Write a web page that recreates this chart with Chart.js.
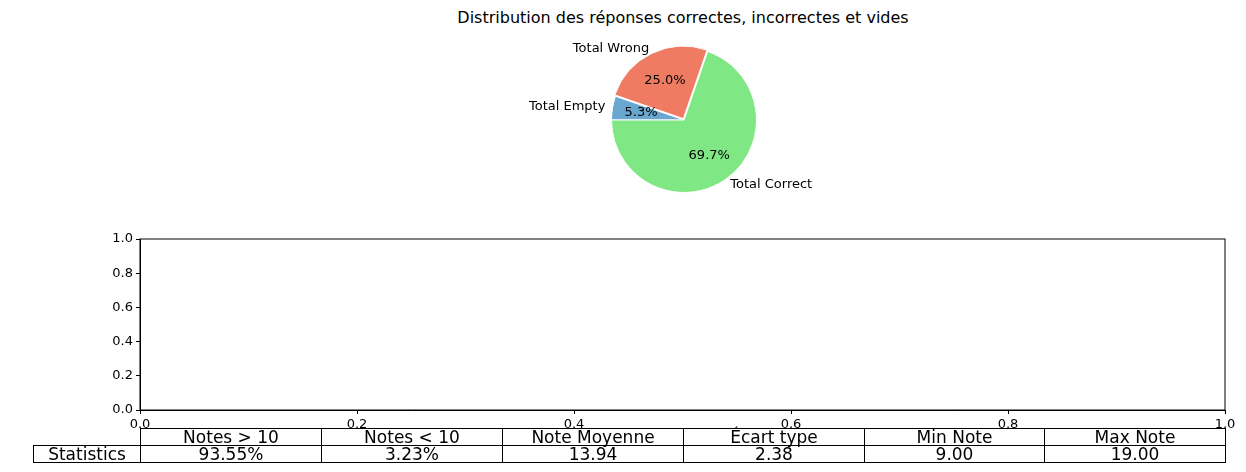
<!DOCTYPE html>
<html><head><meta charset="utf-8">
<script src="https://cdn.jsdelivr.net/npm/chart.js@4"></script>
<style>
body{margin:0;width:1246px;height:472px;background:#fff;position:relative;overflow:hidden;font-family:"DejaVu Sans",sans-serif}
#title{position:absolute;top:8px;left:0;width:1366px;text-align:center;font-size:16px;width:1366px;left:0}
#pieWrap{position:absolute;left:484px;top:30px;width:400px;height:180px}
#axWrap{position:absolute;left:0;top:220px;width:1246px;height:252px}
table{position:absolute;left:33px;top:428px;border-collapse:collapse;font-size:17px;table-layout:fixed}
td{border:1px solid #000;height:16px;padding:0;text-align:center;line-height:16px;background:transparent}
td.blank{border:none}
</style></head><body>
<div id="title" style="left:0;width:1366px;font-size:16px;display:none"></div>
<div style="position:absolute;top:8px;left:0;width:1366px;text-align:center;font-size:16px;" id="t2"></div>
<div id="pieWrap"><canvas id="pie"></canvas></div>
<div id="axWrap"><canvas id="ax"></canvas></div>
<table id="tbl"></table>
<script>
const chartTitle = "Distribution des réponses correctes, incorrectes et vides";
const pieLabels = ["Total Empty", "Total Wrong", "Total Correct"];
const pieValues = [5.3, 25.0, 69.7];
const pieColors = ["#69a6d0", "#ef7b62", "#7fe884"];
const pieOffsets = [0, 6, 0];
const xTicks = [0, 0.2, 0.4, 0.6, 0.8, 1.0];
const yTicks = [0, 0.2, 0.4, 0.6, 0.8, 1.0];
const rowLabel = "Statistics";
const statHeaders = ["Notes > 10", "Notes < 10", "Note Moyenne", "Écart type", "Min Note", "Max Note"];
const statValues = ["93.55%", "3.23%", "13.94", "2.38", "9.00", "19.00"];

const t = document.getElementById('t2');
t.textContent = chartTitle; t.style.width='1366px'; t.style.left='0';
t.style.fontSize='16px';
// center title at x=683
t.style.width='1246px'; t.style.left='60px'; t.style.top='8px';
t.style.left='0'; t.style.width='1366px';

const pieText = {
  id:'pieText',
  afterDatasetsDraw(chart){
    const ctx = chart.ctx;
    const meta = chart.getDatasetMeta(0);
    ctx.save();
    ctx.font = '13px "DejaVu Sans"';
    ctx.fillStyle = '#000';
    meta.data.forEach((arc,i)=>{
      const p = arc.getProps(['x','y','startAngle','endAngle','outerRadius'],true);
      const mid = (p.startAngle+p.endAngle)/2;
      const r = p.outerRadius;
      const cx = Math.cos(mid), cy = Math.sin(mid);
      ctx.textAlign='center'; ctx.textBaseline='middle';
      ctx.fillText(pieValues[i].toFixed(1)+'%', p.x+cx*r*0.6, p.y+cy*r*0.6);
      ctx.textAlign = cx<0?'right':'left';
      ctx.fillText(pieLabels[i], p.x+cx*r*1.1, p.y+cy*r*1.1);
    });
    ctx.restore();
  }
};
new Chart(document.getElementById('pie'),{
  type:'pie',
  data:{labels:pieLabels,datasets:[{data:pieValues,backgroundColor:pieColors,borderColor:'#fff',borderWidth:1,offset:pieOffsets}]},
  options:{responsive:true,maintainAspectRatio:false,animation:false,rotation:-90,
    layout:{padding:{top:14,bottom:14}},
    plugins:{legend:{display:false},tooltip:{enabled:false}}},
  plugins:[pieText]
});

new Chart(document.getElementById('ax'),{
  type:'scatter',
  data:{datasets:[{data:[]}]},
  options:{responsive:true,maintainAspectRatio:false,animation:false,
    layout:{padding:{top:19,right:21,left:0,bottom:0}},
    plugins:{legend:{display:false},tooltip:{enabled:false}},
    scales:{
      x:{type:'linear',min:0,max:1,afterBuildTicks:s=>{s.ticks=xTicks.map(v=>({value:v}));},
        afterFit:s=>{s.height=62;},
        ticks:{color:'#000',font:{size:13,family:'DejaVu Sans'},maxRotation:0,padding:3,callback:v=>Number(v).toFixed(1)},
        grid:{drawOnChartArea:false,tickLength:4,color:'#000'},border:{color:'#000'}},
      y:{type:'linear',min:0,max:1,afterBuildTicks:s=>{s.ticks=yTicks.map(v=>({value:v}));},
        afterFit:s=>{s.width=140;},
        ticks:{color:'#000',font:{size:13,family:'DejaVu Sans'},padding:3,callback:v=>Number(v).toFixed(1)},
        grid:{drawOnChartArea:false,tickLength:4,color:'#000'},border:{color:'#000'}}
    }},
  plugins:[{id:'box',afterDraw(c){const a=c.chartArea,x=c.ctx;x.save();x.strokeStyle='#000';x.lineWidth=1;x.strokeRect(a.left,a.top,a.right-a.left,a.bottom-a.top);x.restore();}}]
});

const tbl = document.getElementById('tbl');
const widths=[107,181,181,181,181,180,181];
let cg='<colgroup>'+widths.map(w=>`<col style="width:${w}px">`).join('')+'</colgroup>';
let r1='<tr><td class="blank"></td>'+statHeaders.map(h=>`<td style="vertical-align:bottom">${h}</td>`).join('')+'</tr>';
let r2='<tr><td>'+rowLabel+'</td>'+statValues.map(v=>`<td>${v}</td>`).join('')+'</tr>';
tbl.innerHTML=cg+r1+r2;
</script>
</body></html>
